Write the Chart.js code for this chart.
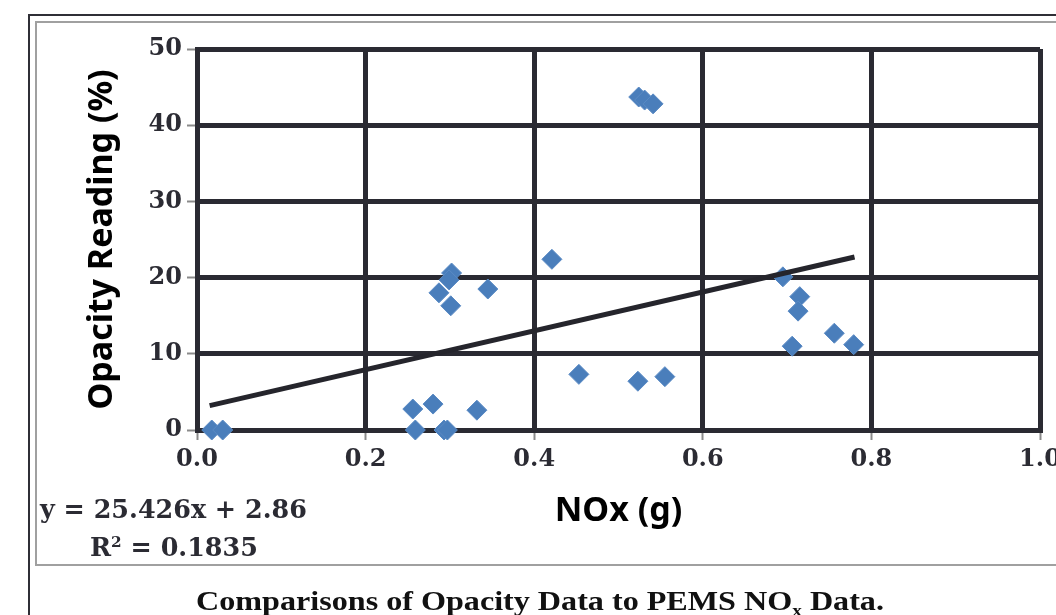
<!DOCTYPE html>
<html>
<head>
<meta charset="utf-8">
<script src="https://cdn.jsdelivr.net/npm/chart.js@4"></script>
<style>
  html, body { margin: 0; padding: 0; background: #fff; }
  body { width: 1056px; height: 615px; overflow: hidden; position: relative; }
  .frame-outer { position: absolute; left: 28px; top: 14px; width: 1100px; height: 700px;
    border-left: 2px solid #2f2f36; border-top: 2px solid #2f2f36; }
  .frame-inner { position: absolute; left: 35px; top: 21px; width: 1100px; height: 541px;
    border-left: 2px solid #a0a0a0; border-top: 2px solid #a0a0a0; border-bottom: 2px solid #a0a0a0; }
  #wrap { position: absolute; left: 0; top: 0; width: 1056px; height: 615px; }
  .eq { position: absolute; font-family: "DejaVu Serif", serif; font-weight: bold; font-size: 25.4px; color: #2b2b33; white-space: nowrap; }
  .caption { position: absolute; left: 540px; top: 586px; transform: translateX(-50%) scaleX(1.19);
    font-family: "Liberation Serif", serif; font-weight: bold; font-size: 27px; color: #111; white-space: nowrap; }
  sup, sub { font-size: 60%; }
</style>
</head>
<body>
<div class="frame-outer"></div>
<div class="frame-inner"></div>
<div id="wrap"><canvas id="chart" width="1056" height="615"></canvas></div>
<div class="eq" style="left:40px; top:494px;">y = 25.426x + 2.86</div>
<div class="eq" style="left:90px; top:532px;">R<sup>2</sup> = 0.1835</div>
<div class="caption">Comparisons of Opacity Data to PEMS NO<sub>x</sub> Data.</div>

<script>
// values
const noxValues = [0.0175, 0.0305, 0.256, 0.28, 0.259, 0.293, 0.297, 0.332, 0.302, 0.299, 0.287, 0.301, 0.345,
  0.421, 0.453, 0.523, 0.555, 0.524, 0.531, 0.541, 0.695, 0.715, 0.713, 0.706, 0.756, 0.779];
const opacityValues = [0, 0, 2.75, 3.4, 0, 0, 0, 2.6, 20.6, 19.7, 18.0, 16.3, 18.5,
  22.4, 7.3, 6.4, 7.0, 43.7, 43.3, 42.8, 20.1, 17.5, 15.6, 11.0, 12.7, 11.2];

// trend line ends (y = 25.426x + 2.86)
const trendX = [0.015, 0.78];
const trendY = [3.2, 22.7];

const xTicks = [0, 0.2, 0.4, 0.6, 0.8, 1.0];
const yTicks = [0, 10, 20, 30, 40, 50];

const gridColor = '#2a2a32';
const tickFont = { family: 'DejaVu Serif', weight: 'bold', size: 24 };
const titleFont = { family: 'Noto Sans', weight: 'bold', size: 34 };

const points = noxValues.map((x, i) => ({ x: x, y: opacityValues[i] }));
const trend = trendX.map((x, i) => ({ x: x, y: trendY[i] }));

new Chart(document.getElementById('chart'), {
  type: 'scatter',
  data: {
    datasets: [
      {
        type: 'line',
        label: 'Linear',
        data: trend,
        borderColor: '#25252c',
        borderWidth: 5,
        pointRadius: 0,
        fill: false,
        clip: false
      },
      {
        label: 'Opacity',
        data: points,
        pointStyle: 'rectRot',
        pointRadius: 10,
        pointHoverRadius: 10,
        backgroundColor: '#4a7ebb',
        borderColor: '#5a8ac4',
        borderWidth: 1,
        clip: false
      }
    ]
  },
  options: {
    responsive: false,
    animation: false,
    events: [],
    layout: { padding: { top: 49, right: 16, left: 0, bottom: 0 } },
    plugins: { legend: { display: false }, tooltip: { enabled: false } },
    scales: {
      x: {
        type: 'linear',
        min: 0,
        max: 1,
        afterBuildTicks: (scale) => { scale.ticks = xTicks.map(v => ({ value: v })); },
        afterFit: (scale) => { scale.height = 185; scale.paddingLeft = 0; scale.paddingRight = 0; },
        ticks: {
          color: '#2b2b33',
          font: tickFont,
          padding: 5,
          maxRotation: 0,
          callback: (v) => Number(v).toFixed(1)
        },
        grid: { color: gridColor, lineWidth: 5, tickColor: '#8a8a8a', tickWidth: 2, tickLength: 10 },
        border: { color: gridColor, width: 5 },
        title: { display: true, text: 'NOx (g)', color: '#000', font: titleFont, padding: { bottom: 83 } }
      },
      y: {
        type: 'linear',
        min: 0,
        max: 50,
        afterBuildTicks: (scale) => { scale.ticks = yTicks.map(v => ({ value: v })); },
        afterFit: (scale) => { scale.width = 197; scale.paddingTop = 0; scale.paddingBottom = 0; },
        ticks: { color: '#2b2b33', font: tickFont, padding: 5 },
        grid: { color: gridColor, lineWidth: 5, tickColor: '#8a8a8a', tickWidth: 2, tickLength: 10 },
        border: { color: gridColor, width: 5 },
        title: { display: true, text: 'Opacity Reading (%)', color: '#000', font: titleFont, padding: { top: 82 } }
      }
    }
  }
});
</script>
</body>
</html>
